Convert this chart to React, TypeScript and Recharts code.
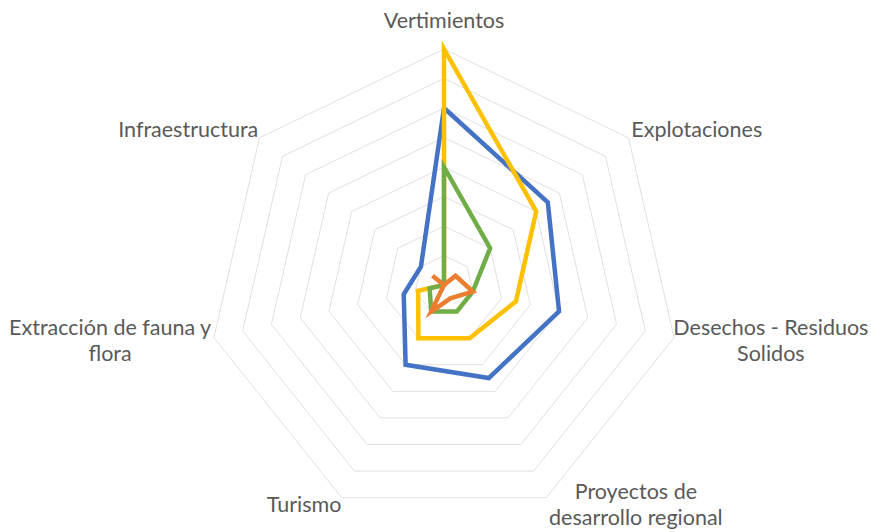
import { RadarChart, Radar, PolarGrid, PolarAngleAxis, PolarRadiusAxis } from 'recharts'

const categories = [
  'Vertimientos',
  'Explotaciones',
  'Desechos - Residuos Solidos',
  'Proyectos de desarrollo regional',
  'Turismo',
  'Extracción de fauna y flora',
  'Infraestructura',
]

const blueValues = [6, 4.5, 4, 3.5, 3, 1.4, 1]
const yellowValues = [8, 4, 2.5, 2, 2, 0.9, 0]
const greenValues = [4, 2, 1, 1, 1, 0.5, 0]
const orangeValues = [0, 0.5, 1, 0.5, 1, 0, 0.5]

const labelLines = [
  ['Vertimientos'],
  ['Explotaciones'],
  ['Desechos - Residuos', 'Solidos'],
  ['Proyectos de', 'desarrollo regional'],
  ['Turismo'],
  ['Extracción de fauna y', 'flora'],
  ['Infraestructura'],
]

// label shift from the tick point: [dx, dy of first baseline]
const labelShift = [
  [0, -13],
  [62, 4],
  [89, -4],
  [86, -6],
  [-34, 7],
  [-96, -4],
  [-65, 4],
]

const data = categories.map((name, i) => ({
  name,
  blue: blueValues[i],
  yellow: yellowValues[i],
  green: greenValues[i],
  orange: orangeValues[i],
}))

const AngleTick = (props: any) => {
  const { x, y, payload } = props
  const i = categories.indexOf(payload.value)
  const [dx, dy] = labelShift[i]
  const lines = labelLines[i]
  return (
    <text
      x={x + dx}
      y={y + dy}
      textAnchor="middle"
      fill="#595959"
      fontSize={21.5}
      fontFamily="Lato, 'Open Sans', sans-serif"
    >
      {lines.map((line, k) => (
        <tspan key={k} x={x + dx} y={y + dy + k * 26}>
          {line}
        </tspan>
      ))}
    </text>
  )
}

export default function App() {
  return (
    <div style={{ position: 'absolute', left: 0, top: 0, width: 871, height: 532, background: '#fff' }}>
      <RadarChart width={871} height={532} data={data} cx={444} cy={285} outerRadius={236}>
        <PolarGrid gridType="polygon" radialLines={false} stroke="#e0e0e0" strokeWidth={1} />
        <PolarAngleAxis dataKey="name" tick={<AngleTick />} tickLine={false} axisLine={false} />
        <PolarRadiusAxis domain={[0, 8]} tickCount={9} tick={false} axisLine={false} angle={90} />
        <Radar dataKey="blue" stroke="#4472C4" strokeWidth={4.5} fill="none" dot={false} isAnimationActive={false} />
        <Radar dataKey="yellow" stroke="#FFC000" strokeWidth={4.5} fill="none" dot={false} isAnimationActive={false} />
        <Radar dataKey="green" stroke="#70AD47" strokeWidth={4.5} fill="none" dot={false} isAnimationActive={false} />
        <Radar dataKey="orange" stroke="#ED7D31" strokeWidth={4.5} fill="none" dot={false} isAnimationActive={false} />
      </RadarChart>
    </div>
  )
}
